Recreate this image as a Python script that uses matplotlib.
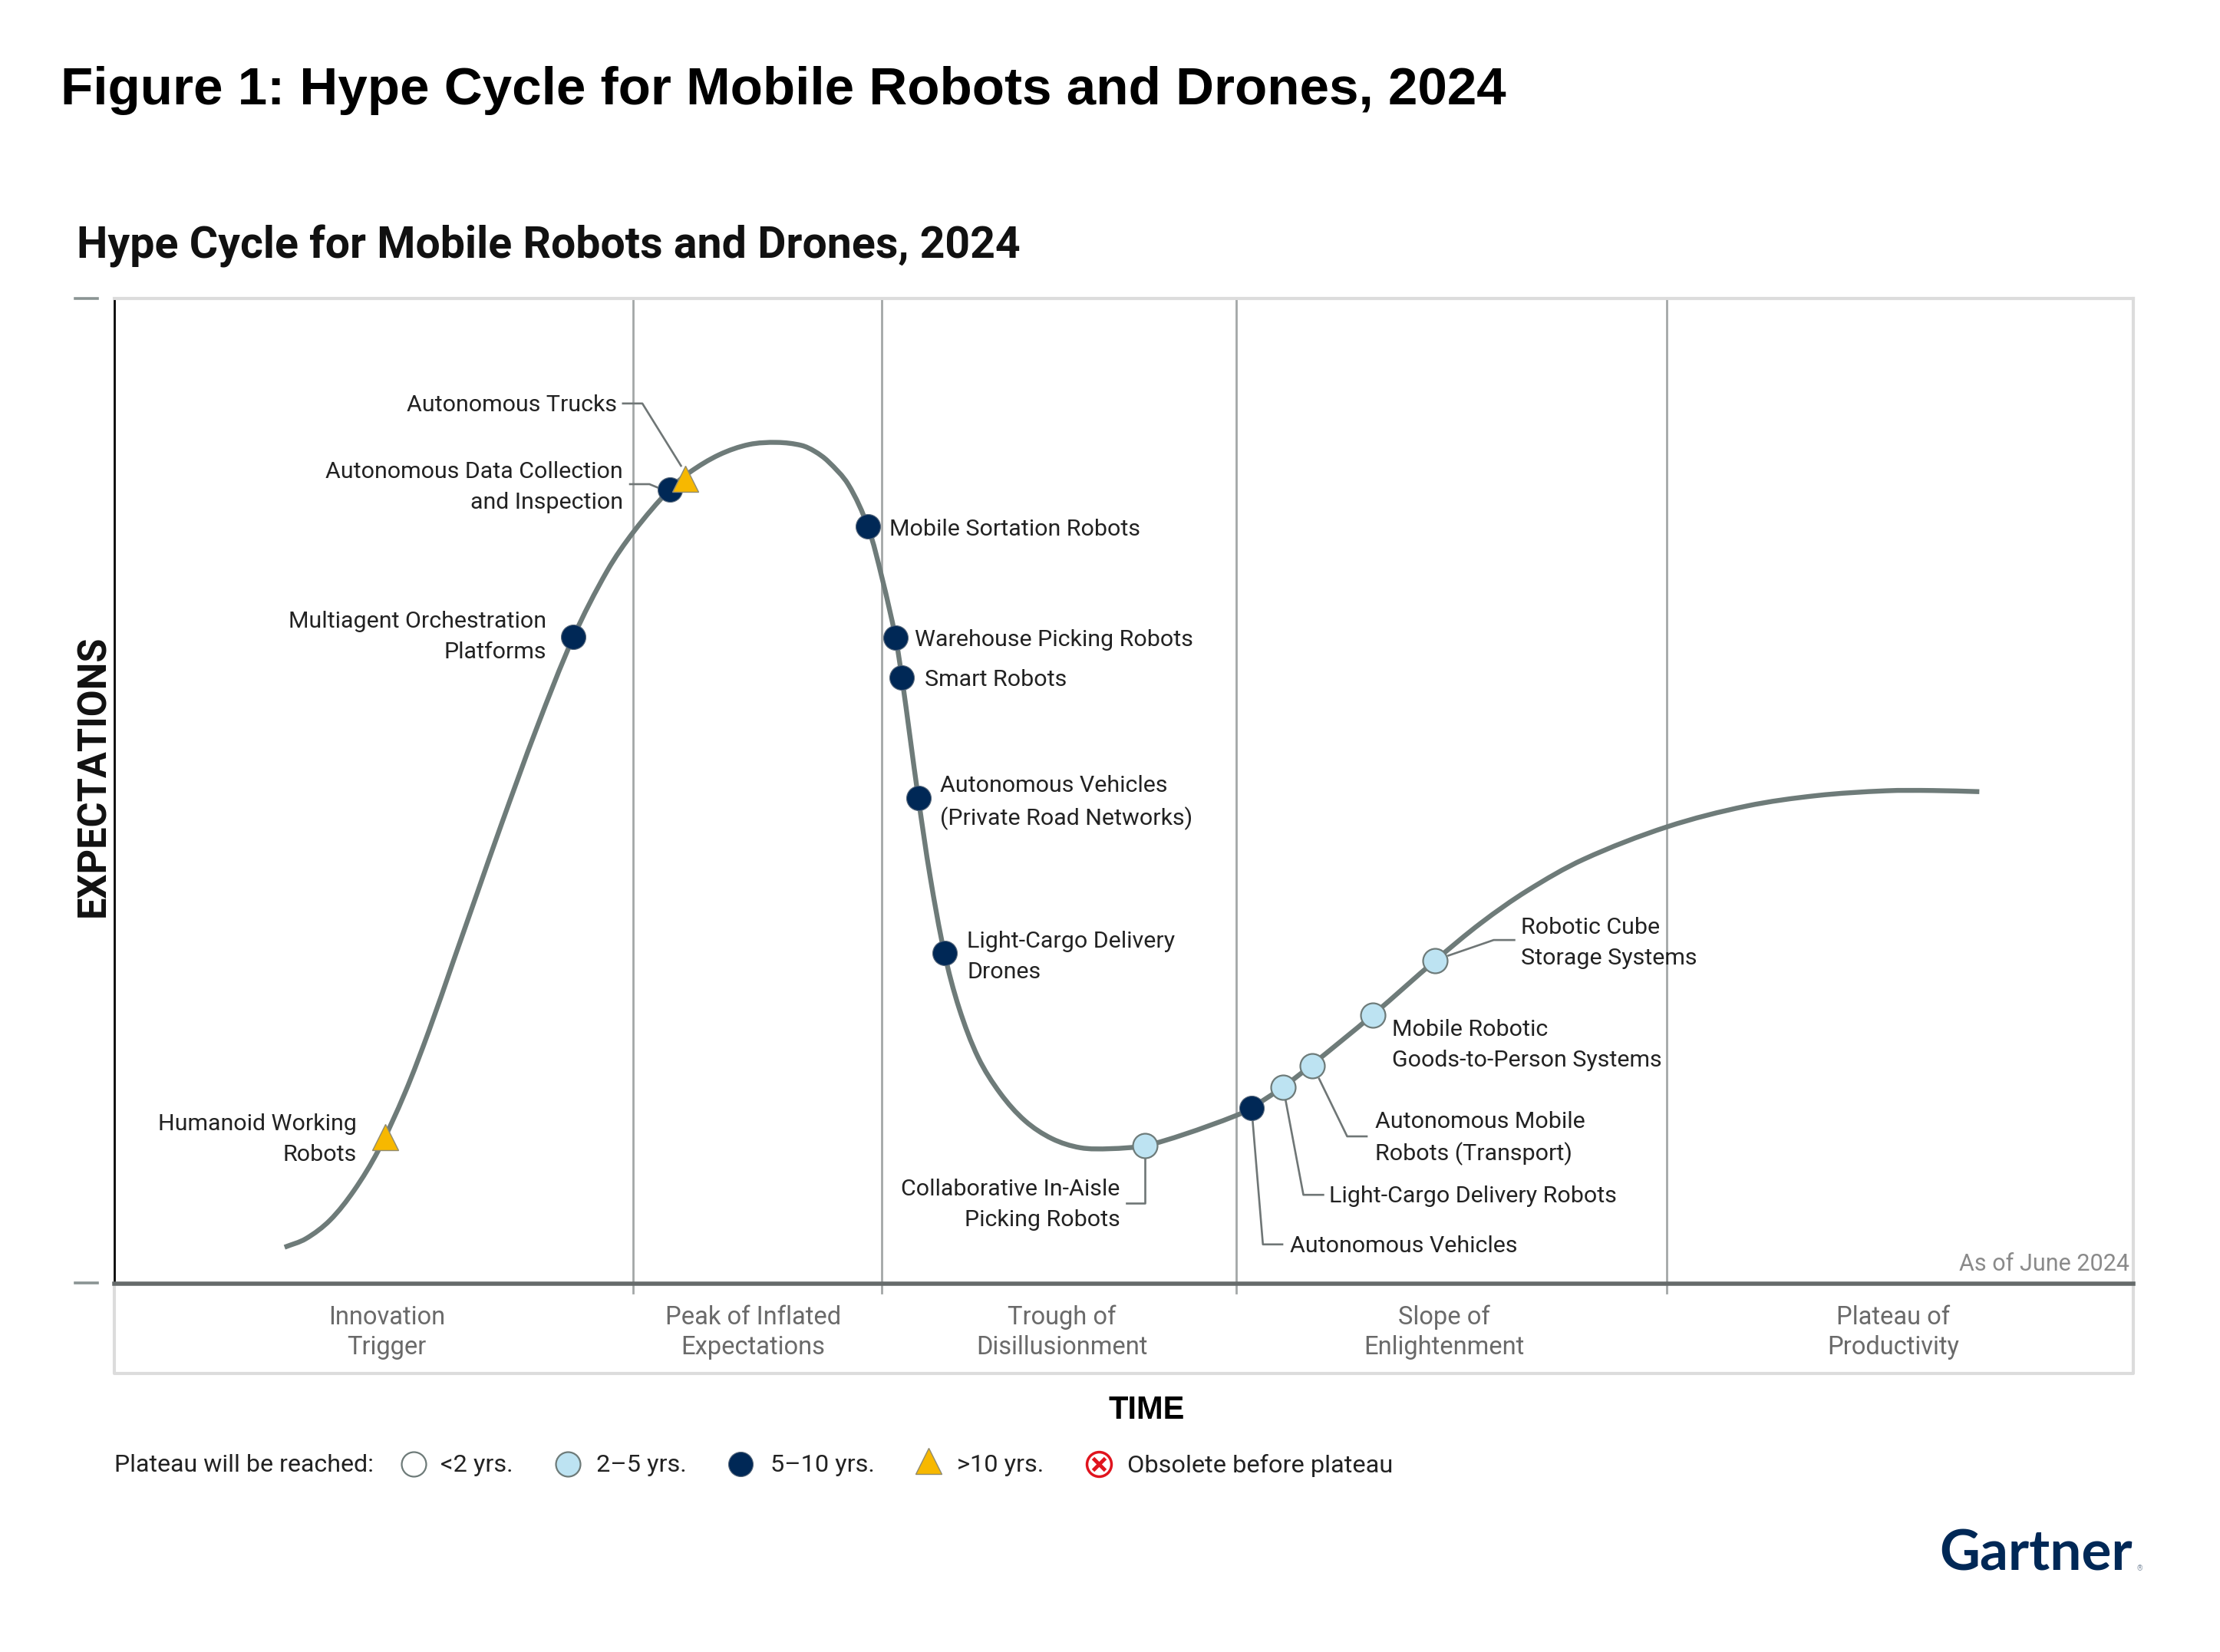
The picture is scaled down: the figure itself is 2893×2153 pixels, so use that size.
"""
Hype cycle chart, values read off the picture.
x = time, y = expectations, both in picture units measured from the axes corner.
"""
import numpy as np
import matplotlib
matplotlib.use('Agg')
import matplotlib.pyplot as plt
from matplotlib.path import Path
from matplotlib.patches import PathPatch

# curve through the hype cycle
curve_x = [120, 135, 152, 169, 186, 205, 222, 239, 256, 273, 298, 324, 348, 367, 392, 406, 427, 448,
           468, 485, 494.4, 503.8, 518, 532, 542, 551.5, 556, 567.6, 576, 586, 596.5, 610, 625.6, 643, 662, 682,
           703, 727.7, 755, 792, 803, 825, 845, 888.7, 932.7, 965, 998, 1037.5, 1096.6, 1152.5, 1202,
           1251, 1284, 1317]
curve_y = [26, 32, 45, 66, 94, 135, 179, 227.5, 276, 324.3, 392.5, 457, 504, 532, 561.3,
           573.3, 585.8, 593, 594.5, 592.4, 588.2, 581.2, 565, 535, 498.7, 456.8, 428.5, 343.5, 287.6, 234,
           194.6, 159.8, 134.6, 115.3, 102.7, 96.3, 95.6, 97.8, 105.6, 119, 124.6, 139, 154.4, 190.2,
           228.5, 255, 278, 300, 323, 337.6, 345, 348.4, 348.6, 347.8]

tech_names = ['Humanoid Working\nRobots', 'Multiagent Orchestration\nPlatforms',
              'Autonomous Data Collection\nand Inspection', 'Autonomous Trucks',
              'Mobile Sortation Robots', 'Warehouse Picking Robots', 'Smart Robots',
              'Autonomous Vehicles\n(Private Road Networks)', 'Light-Cargo Delivery\nDrones',
              'Collaborative In-Aisle\nPicking Robots', 'Autonomous Vehicles',
              'Light-Cargo Delivery Robots', 'Autonomous Mobile\nRobots (Transport)',
              'Mobile Robotic\nGoods-to-Person Systems', 'Robotic Cube\nStorage Systems']
tech_x = [191, 324, 392, 403, 532, 551.5, 556, 567.6, 586, 727.7, 803, 825, 846, 888.7, 932.7]
tech_y = [104, 457, 561, 569, 535, 456.8, 428.5, 343.5, 234, 97.8, 124.6, 139, 154.4, 190.2, 228.5]
tech_class = ['>10', '5-10', '5-10', '>10', '5-10', '5-10', '5-10', '5-10', '5-10',
              '2-5', '5-10', '2-5', '2-5', '2-5', '2-5']

phase_names = ['Innovation\nTrigger', 'Peak of Inflated\nExpectations', 'Trough of\nDisillusionment',
               'Slope of\nEnlightenment', 'Plateau of\nProductivity']
phase_edges = [366, 542, 792, 1096]

legend_labels = ['<2 yrs.', '2\u20135 yrs.', '5\u201310 yrs.', '>10 yrs.', 'Obsolete before plateau']

# label anchor (picture px of the 1568 wide view) and alignment
label_pos = [(252, 805, 'right'), (386, 450, 'right'), (440, 344, 'right'), (436, 286, 'right'),
             (628, 374, 'left'), (646, 452, 'left'), (653, 480, 'left'), (664, 567, 'left'),
             (683, 676, 'left'), (791, 851, 'right'), (911, 880, 'left'), (939, 845, 'left'),
             (971, 804, 'left'), (983, 738, 'left'), (1074, 666, 'left')]
leaders = [[(440, 285), (453.7, 285), (481, 329)],
           [(445, 342), (458.7, 342), (466, 345)],
           [(808.9, 817), (808.9, 850), (795.7, 850)],
           [(884.6, 790), (892, 879), (905.7, 879)],
           [(908, 777), (920.6, 844), (934.6, 844)],
           [(931.7, 762), (951.5, 802.7), (965.3, 802.7)],
           [(1023, 675), (1055, 664), (1069.6, 664)]]

NAVY = '#002856'
SKY = '#bde3f2'
AMBER = '#f7b800'
GREY = '#6e7b79'
LINE = '#a3a7a7'
S = 2893 / 1568


def px(x, y):
    return x - 81, 907 - y


def put(x, y, s, **kw):
    xx, yy = px(x, y)
    kw.setdefault('family', 'Roboto')
    kw.setdefault('va', 'center')
    kw.setdefault('clip_on', False)
    return ax.text(xx, yy, s, **kw)


def smooth_path(xs, ys):
    # chord scaled tangents, the points are not evenly spaced
    pts = np.column_stack([xs, ys]).astype(float)
    tang = np.zeros_like(pts)
    tang[1:-1] = pts[2:] - pts[:-2]
    tang[0] = pts[1] - pts[0]
    tang[-1] = pts[-1] - pts[-2]
    tang /= np.linalg.norm(tang, axis=1, keepdims=True)
    verts, codes = [pts[0]], [Path.MOVETO]
    for i in range(len(pts) - 1):
        d = np.linalg.norm(pts[i + 1] - pts[i]) / 3
        verts += [pts[i] + tang[i] * d, pts[i + 1] - tang[i + 1] * d, pts[i + 1]]
        codes += [Path.CURVE4] * 3
    return Path(verts, codes)


def marker(x, y, cls, z=5):
    if cls == '>10':
        ax.plot(x, y, '^', ms=25, mfc=AMBER, mec='#8f8a70', mew=1.0, clip_on=False, zorder=z)
    elif cls == '5-10':
        ax.plot(x, y, 'o', ms=23, mfc=NAVY, mec='#56677a', mew=0.8, clip_on=False, zorder=z)
    elif cls == '2-5':
        ax.plot(x, y, 'o', ms=23, mfc=SKY, mec=GREY, mew=1.6, clip_on=False, zorder=z)
    elif cls == '<2':
        ax.plot(x, y, 'o', ms=23, mfc='white', mec=GREY, mew=1.6, clip_on=False, zorder=z)
    else:
        ax.plot(x, y, 'o', ms=23, mfc='white', mec='#e0141e', mew=2.5, clip_on=False, zorder=z)
        ax.plot(x, y, 'x', ms=12, mec='#e0141e', mew=3.5, clip_on=False, zorder=z + 1)


fig = plt.figure(figsize=(28.93, 21.53), dpi=100, facecolor='white')
ax = fig.add_axes([81 * S / 2893, 1 - 907 * S / 2153, 1426 * S / 2893, 696 * S / 2153])
ax.set_xlim(0, 1426)
ax.set_ylim(0, 696)
ax.set_xticks([])
ax.set_yticks([])
ax.spines['left'].set(color='black', lw=2.0)
ax.spines['bottom'].set(color='#666b6b', lw=4.0)
ax.spines['top'].set(color='#dcdcdc', lw=3.0)
ax.spines['right'].set(color='#dcdcdc', lw=3.0)

# phase dividers run a little below the baseline
for e in phase_edges:
    ax.plot([e, e], [-6, 696], color=LINE, lw=2.0, clip_on=False, zorder=1)

# box under the axis with the phase names
bx, by = zip(px(81, 907), px(81, 970), px(1507, 970), px(1507, 907))
ax.plot(bx, by, color='#dcdcdc', lw=3.0, clip_on=False, zorder=1)

# small dashes left of the y axis
for yy in (696, 1):
    ax.plot([-28, -12], [yy, yy], color='#8a9493', lw=2.6, clip_on=False)

ax.add_patch(PathPatch(smooth_path(curve_x, curve_y), fc='none', ec=GREY, lw=4.6, capstyle='butt', zorder=3))

for pts in leaders:
    lx, ly = zip(*[px(*p) for p in pts])
    ax.plot(lx, ly, color='#6f7676', lw=1.9, zorder=2, clip_on=False)

for x, y, c in zip(tech_x, tech_y, tech_class):
    marker(x, y, c)

for name, (lx, ly, ha) in zip(tech_names, label_pos):
    put(lx, ly, name, ha=ha, fontsize=21.9, color='#222222', linespacing=1.54, ma=ha)

# phase names
for name, cx in zip(phase_names, [273, 532, 750, 1020, 1337]):
    put(cx, 941, name, ha='center', fontsize=23.5, color='#6a6a6a', linespacing=1.27)

put(1504, 893, 'As of June 2024', ha='right', fontsize=22, color='#8a8a8a')

# titles
put(43, 64, 'Figure 1: Hype Cycle for Mobile Robots and Drones, 2024', family='Liberation Sans',
    fontweight='bold', fontsize=49.8, color='black', ha='left')
put(54, 174, 'Hype Cycle for Mobile Robots and Drones, 2024', fontweight='bold', fontsize=41.2,
    color='#111111', ha='left')
put(66, 548, 'EXPECTATIONS', rotation=90, ha='center', fontweight='bold', fontsize=36.4, color='#111111')
put(810, 996, 'TIME', ha='center', family='Liberation Sans', fontweight='bold', fontsize=30, color='black')

# legend row
put(81, 1035, 'Plateau will be reached:', ha='left', fontsize=23.1, color='#222222')
for lab, cls, mx, tx, my in zip(legend_labels, ['<2', '2-5', '5-10', '>10', 'obs'],
                                [292, 401, 523, 656, 776], [311, 421, 544, 676, 796],
                                [1034, 1034, 1034, 1032, 1034]):
    xx, yy = px(mx, my)
    marker(xx, yy, cls)
    put(tx, 1035, lab, ha='left', fontsize=23.4, color='#222222')

put(1370, 1098, 'Gartner', ha='left', family='Lato', fontweight='bold', fontsize=52.5, color=NAVY)
put(1509, 1108, '\u00ae', ha='left', fontsize=7, color='#8a97a8')

fig.savefig('out.png', dpi=100, facecolor='white')
